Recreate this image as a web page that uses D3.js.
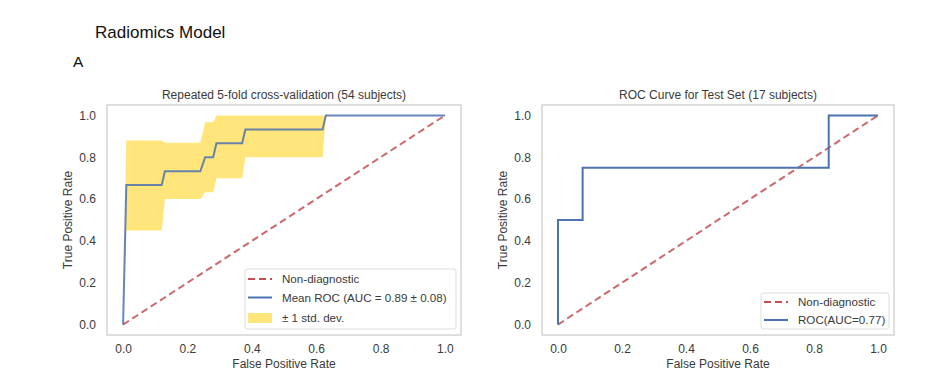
<!DOCTYPE html>
<html>
<head>
<meta charset="utf-8">
<script src="https://cdn.jsdelivr.net/npm/d3@7"></script>
<style>
  body { margin: 0; background: #fff; }
  svg text { font-family: "Liberation Sans", Arial, sans-serif; }
</style>
</head>
<body>
<svg id="chart" width="931" height="380"></svg>
<script>
// cross-validation mean ROC with ±1 std band
const cvFpr = [0, 0.01, 0.12, 0.13, 0.24, 0.255, 0.28, 0.29, 0.37, 0.38, 0.62, 0.63, 1.0];
const cvTpr = [0, 0.667, 0.667, 0.733, 0.733, 0.8, 0.8, 0.867, 0.867, 0.933, 0.933, 1, 1];
const cvUpper = [0, 0.88, 0.88, 0.87, 0.87, 0.967, 0.967, 1, 1, 1, 1, 1, 1];
const cvLower = [0, 0.45, 0.45, 0.6, 0.6, 0.633, 0.633, 0.7, 0.7, 0.8, 0.8, 1, 1];

// test set ROC (17 subjects)
const testFpr = [0, 0, 0.077, 0.077, 0.846, 0.846, 1];
const testTpr = [0, 0.5, 0.5, 0.75, 0.75, 1, 1];

const chance = [0, 1];
const ticks = [0, 0.2, 0.4, 0.6, 0.8, 1.0];

const RED = "#c44e52", BLUE = "#4c72b0", GOLD = "#ffe57a", FRAME = "#d4d4d4", TXT = "#3a3a3a";
const FS = 12, LFS = 11.6;

const svg = d3.select("#chart");

svg.append("text").attr("x", 95).attr("y", 38).attr("font-size", 17)
  .attr("fill", "#111").text("Radiomics Model");
svg.append("text").attr("x", 73).attr("y", 67).attr("font-size", 15.5)
  .attr("fill", "#111").text("A");

function panel(left, right, title, draw, legendItems, legendBox) {
  const top = 105, bottom = 335;
  const x = d3.scaleLinear().domain([-0.05, 1.05]).range([left, right]);
  const y = d3.scaleLinear().domain([-0.05, 1.05]).range([bottom, top]);
  const g = svg.append("g");

  g.append("text").attr("x", (left + right) / 2).attr("y", 98.5)
    .attr("text-anchor", "middle").attr("font-size", FS).attr("fill", TXT).text(title);

  const xa = g.append("g").attr("transform", `translate(0,${bottom})`)
    .call(d3.axisBottom(x).tickValues(ticks).tickFormat(d3.format(".1f")).tickSize(0).tickPadding(9));
  const ya = g.append("g").attr("transform", `translate(${left},0)`)
    .call(d3.axisLeft(y).tickValues(ticks).tickFormat(d3.format(".1f")).tickSize(0).tickPadding(11));
  [xa, ya].forEach(a => {
    a.select(".domain").remove();
    a.selectAll("text").attr("font-size", FS).attr("fill", TXT)
      .style("font-family", '"Liberation Sans", Arial, sans-serif');
  });

  g.append("text").attr("x", (left + right) / 2).attr("y", 368)
    .attr("text-anchor", "middle").attr("font-size", FS).attr("fill", TXT).text("False Positive Rate");
  g.append("text").attr("transform", `translate(${left - 35},${(top + bottom) / 2}) rotate(-90)`)
    .attr("text-anchor", "middle").attr("font-size", FS).attr("fill", TXT).text("True Positive Rate");

  draw(g, x, y);

  g.append("rect").attr("x", left).attr("y", top).attr("width", right - left)
    .attr("height", bottom - top).attr("fill", "none").attr("stroke", FRAME).attr("stroke-width", 1.5);

  // legend
  const lb = legendBox;
  g.append("rect").attr("x", lb.x).attr("y", lb.y).attr("width", lb.w).attr("height", lb.h)
    .attr("rx", 2.5).attr("fill", "#fff").attr("fill-opacity", 0.85)
    .attr("stroke", "#dcdcdc").attr("stroke-width", 1);
  legendItems.forEach((it, i) => {
    const yy = lb.rows[i];
    const sx = lb.x + 3;
    if (it.type === "patch") {
      g.append("rect").attr("x", sx).attr("y", yy - 5).attr("width", 24).attr("height", 10).attr("fill", GOLD);
    } else {
      g.append("line").attr("x1", sx).attr("x2", sx + 24).attr("y1", yy).attr("y2", yy)
        .attr("stroke", it.color).attr("stroke-width", 2)
        .attr("stroke-dasharray", it.dash || null);
    }
    g.append("text").attr("x", sx + 34).attr("y", yy + 4).attr("font-size", LFS)
      .attr("fill", TXT).text(it.label);
  });
}

function chanceLine(g, x, y) {
  g.append("path")
    .attr("d", d3.line().x(d => x(d)).y(d => y(d))(chance))
    .attr("fill", "none").attr("stroke", RED).attr("stroke-width", 2)
    .attr("stroke-dasharray", "7,4").attr("stroke-opacity", 0.85);
}

panel(107, 461, "Repeated 5-fold cross-validation (54 subjects)", (g, x, y) => {
  const idx = d3.range(cvFpr.length);
  g.append("path")
    .attr("d", d3.area().x(i => x(cvFpr[i])).y0(i => y(cvLower[i])).y1(i => y(cvUpper[i]))(idx))
    .attr("fill", GOLD);
  chanceLine(g, x, y);
  g.append("path")
    .attr("d", d3.line().x(i => x(cvFpr[i])).y(i => y(cvTpr[i]))(idx))
    .attr("fill", "none").attr("stroke", BLUE).attr("stroke-width", 2).attr("stroke-opacity", 0.85);
}, [
  { label: "Non-diagnostic", color: RED, dash: "7,4" },
  { label: "Mean ROC (AUC = 0.89 \u00b1 0.08)", color: BLUE },
  { label: "\u00b1 1 std. dev.", type: "patch" }
], { x: 245, y: 269, w: 211, h: 60, rows: [279, 297.5, 318] });

panel(542, 894, "ROC Curve for Test Set (17 subjects)", (g, x, y) => {
  chanceLine(g, x, y);
  const idx = d3.range(testFpr.length);
  g.append("path")
    .attr("d", d3.line().x(i => x(testFpr[i])).y(i => y(testTpr[i]))(idx))
    .attr("fill", "none").attr("stroke", BLUE).attr("stroke-width", 2);
}, [
  { label: "Non-diagnostic", color: RED, dash: "7,4" },
  { label: "ROC(AUC=0.77)", color: BLUE }
], { x: 761, y: 293, w: 128, h: 36, rows: [302, 320] });
</script>
</body>
</html>
